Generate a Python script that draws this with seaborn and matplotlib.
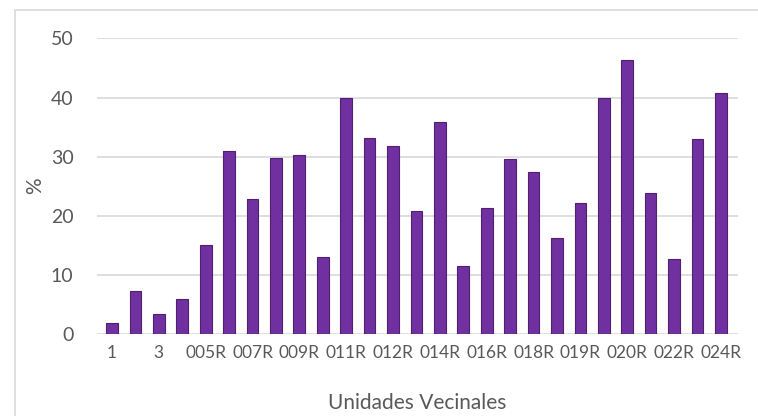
import pandas as pd
import matplotlib.pyplot as plt
import seaborn as sns
from matplotlib.patches import Rectangle

sns.set_style("white")
plt.rcParams['font.family'] = ['Lato', 'DejaVu Sans']

# --- DATA ---
unidades = ["1", "2", "3", "4", "005R", "006R", "007R", "008R", "009R", "010R",
            "011R", "011R-2", "012R", "013R", "014R", "015R", "016R", "017R",
            "018R", "018R-2", "019R", "019R-2", "020R", "021R", "022R", "023R", "024R"]
porcentaje = [1.8, 7.3, 3.3, 5.9, 15.0, 31.0, 22.8, 29.8, 30.2, 13.0,
              40.0, 33.2, 31.8, 20.7, 35.8, 11.4, 21.3, 29.6, 27.4, 16.2,
              22.2, 40.0, 46.4, 23.8, 12.6, 33.0, 40.8]

df = pd.DataFrame({"Unidad": unidades, "Porcentaje": porcentaje})

fig = plt.figure(figsize=(7.58, 4.16), dpi=100)
ax = fig.add_axes([97 / 758, 0.198, 641 / 758, 0.7095])

sns.barplot(data=df, x="Unidad", y="Porcentaje", color="#7030A0",
            width=0.5, saturation=1, edgecolor="#4e1f73", linewidth=0.8, ax=ax)

ax.set_ylim(0, 50)
ax.set_xlim(-0.64, len(unidades) - 1 + 0.73)
ax.set_yticks([0, 10, 20, 30, 40, 50])
ax.yaxis.grid(True, color="#d9d9d9", linewidth=1.2)
ax.set_axisbelow(True)
for s in ax.spines.values():
    s.set_visible(False)

ax.set_xticks(range(0, len(unidades), 2))
ax.set_xticklabels(unidades[::2])
ax.tick_params(axis="both", length=0, colors="#595959")
ax.tick_params(axis="x", pad=8, labelsize=12.5)
ax.tick_params(axis="y", pad=17, labelsize=14)

ax.set_xlabel("Unidades Vecinales", fontsize=15, color="#595959", labelpad=23)
ax.set_ylabel("%", fontsize=15, color="#595959", labelpad=4)

# chart area border
fig.patches.append(Rectangle((15 / 758, -0.05), 1.0, 1.0 - 10 / 416 + 0.05,
                             transform=fig.transFigure, fill=False,
                             edgecolor="#d9d9d9", linewidth=1.2))

fig.savefig("out.png", dpi=100)
